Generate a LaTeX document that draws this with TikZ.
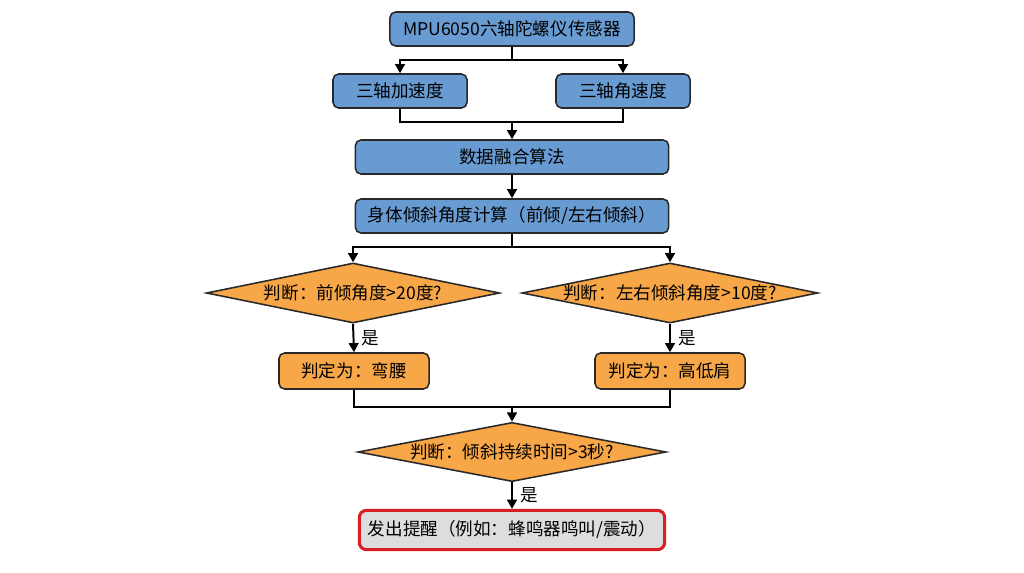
\documentclass[tikz,border=0pt]{standalone}
\usepackage{fontspec}
\setmainfont{Noto Sans CJK SC}
\usetikzlibrary{shapes.geometric, arrows.meta, positioning, calc}
\usepackage{xcolor}
\definecolor{boxBlue}{RGB}{104,155,210}
\definecolor{boxOrange}{RGB}{247,166,72}
\definecolor{boxEdge}{RGB}{40,40,40}
\definecolor{alarmRed}{RGB}{214,30,36}
\definecolor{alarmGray}{RGB}{221,221,221}
\tikzset{
    font=\fontsize{12.5pt}{15pt}\selectfont,
    >={Triangle[length=6.5pt, width=7pt]},
    % Colors
    compBlue/.style={draw=boxEdge, fill=boxBlue},
    compOrange/.style={draw=boxEdge, fill=boxOrange},
    compAlarm/.style={draw=alarmRed, fill=alarmGray, line width=2.2pt},
    % Shapes
    comp/.style={rectangle, line width=1.1pt, rounded corners=4pt,
                 minimum height=0.85cm, align=center, inner sep=2pt, compBlue},
    decide/.style={diamond, aspect=5, line width=1.1pt, inner sep=0pt,
                   minimum height=1.5cm, align=center, compOrange},
    % Flow & Labels
    wire/.style={line width=1.4pt, black},
    flow/.style={->, line width=1.4pt, black},
    lbl/.style={right, inner sep=5pt}
}

\begin{document}
\begin{tikzpicture}[x=0.025cm, y=-0.025cm]

\useasboundingbox (0,0) rectangle (1024,572);

% sensor and raw data
\node[comp, minimum width=6.1cm] (mpu) at (512,29) {MPU6050六轴陀螺仪传感器};
\node[comp, minimum width=3.35cm] (acc) at (400,91) {三轴加速度};
\node[comp, minimum width=3.35cm] (gyr) at (623,91) {三轴角速度};
\node[comp, minimum width=7.83cm] (fuse) at (512,157) {数据融合算法};
\node[comp, minimum width=7.83cm] (tilt) at (512,216) {身体倾斜角度计算（前倾/左右倾斜）};

% checks
\node[decide, minimum width=7.33cm] (bend) at (353,293) {判断：前倾角度>20度?};
\node[decide, minimum width=7.4cm] (side) at (670,293) {判断：左右倾斜角度>10度?};
\node[comp, compOrange, minimum width=3.75cm, minimum height=0.9cm] (bow) at (354,371) {判定为：弯腰};
\node[comp, compOrange, minimum width=3.75cm, minimum height=0.9cm] (shrug) at (670,371) {判定为：高低肩};
\node[decide, minimum width=7.7cm, minimum height=1.48cm] (hold) at (512,452) {判断：倾斜持续时间>3秒?};
\node[comp, compAlarm, rounded corners=5pt, minimum width=7.63cm, minimum height=0.98cm] (alarm) at (512,530) {发出提醒（例如：蜂鸣器鸣叫/震动）};

\coordinate (j1) at (512,122);
\coordinate (j2) at (512,407);

\draw[wire] (mpu.south) -- ++(0,13) coordinate (s1);
\draw[flow] (s1) -| (acc.north);
\draw[flow] (s1) -| (gyr.north);

\draw[wire] (acc.south) |- (j1) -| (gyr.south);
\draw[flow] (j1) -- (fuse.north);
\draw[flow] (fuse) -- (tilt);

\draw[wire] (tilt.south) -- ++(0,13) coordinate (s2);
\draw[flow] (s2) -| (bend.north);
\draw[flow] (s2) -| (side.north);

\draw[flow] (bend.south) -- node[lbl] {是} (bow.north);
\draw[flow] (side.south) -- node[lbl] {是} (shrug.north);

\draw[wire] (bow.south) |- (j2) -| (shrug.south);
\draw[flow] (j2) -- (hold.north);
\draw[flow] (hold.south) -- node[lbl] {是} (alarm.north);

\end{tikzpicture}
\end{document}
